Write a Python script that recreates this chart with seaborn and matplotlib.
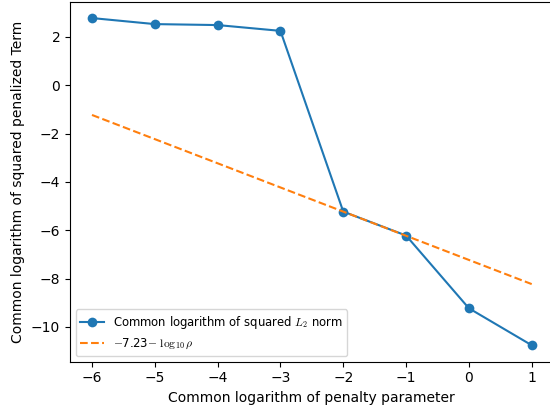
import matplotlib
matplotlib.use("Agg")
import matplotlib.pyplot as plt
import seaborn as sns
import numpy as np
import pandas as pd

plt.rcParams['mathtext.fontset'] = 'cm'

log_rho = [-6, -5, -4, -3, -2, -1, 0, 1]
log_norm = [2.78, 2.53, 2.49, 2.25, -5.23, -6.22, -9.23, -10.76]
offset = -7.23

line_y = [offset - r for r in log_rho]

fig, ax = plt.subplots(figsize=(5.5, 4.11), dpi=100)
sns.lineplot(x=log_rho, y=log_norm, marker='o', markersize=7, markeredgewidth=0,
             color='#1f77b4', label=r'Common logarithm of squared $L_2$ norm', ax=ax)
sns.lineplot(x=log_rho, y=line_y, linestyle='--', color='#ff7f0e',
             label=r'$-$7.23$-$ $\log_{10}\rho$', ax=ax)
ax.set_xlabel('Common logarithm of penalty parameter')
ax.set_ylabel('Common logarithm of squared penalized Term')
ax.legend(loc='lower left', fontsize='small')
fig.subplots_adjust(left=70/550, right=553.7/550, top=1 - 1.7/411, bottom=1 - 361.6/411)
fig.savefig('out.png', dpi=100)
